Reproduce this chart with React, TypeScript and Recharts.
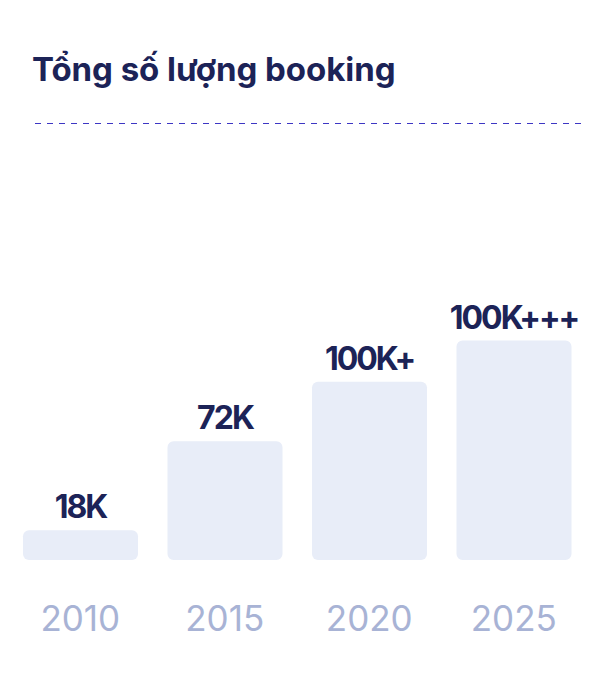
import React from "react";
import { BarChart, Bar, XAxis, YAxis, LabelList } from "recharts";

const years = ["2010", "2015", "2020", "2025"];
const bookings = [18, 72, 108, 133];
const bookingLabels = ["18K", "72K", "100K+", "100K+++"];

const chartData = years.map((year, i) => ({
    year,
    value: bookings[i],
    label: bookingLabels[i],
}));

const FONT = "Inter, 'Noto Sans', sans-serif";

const App: React.FC = () => {
    return (
        <div
            style={{
                position: "relative",
                width: 581,
                height: 660,
                fontFamily: FONT,
            }}
        >
            <div
                style={{
                    position: "absolute",
                    left: 24,
                    top: 45,
                    fontSize: 33,
                    lineHeight: 1,
                    fontWeight: 700,
                    letterSpacing: -0.05,
                    color: "#1c2357",
                    whiteSpace: "nowrap",
                }}
            >
                Tổng số lượng booking
            </div>
            <svg
                width={581}
                height={4}
                style={{ position: "absolute", left: 0, top: 113 }}
            >
                <line
                    x1={27}
                    x2={575}
                    y1={2.5}
                    y2={2.5}
                    stroke="#3d36c4"
                    strokeWidth={1}
                    strokeDasharray="6 6"
                />
            </svg>
            <div style={{ position: "absolute", left: 0, top: 122 }}>
                <BarChart
                    width={578}
                    height={520}
                    data={chartData}
                    margin={{ top: 17.5, right: 0, bottom: 0, left: 0 }}
                >
                    <XAxis
                        dataKey="year"
                        height={90}
                        axisLine={false}
                        tickLine={false}
                        tickSize={0}
                        tickMargin={46}
                        interval={0}
                        tick={{
                            fill: "#a8b3d5",
                            fontSize: 35,
                            fontFamily: FONT,
                        }}
                    />
                    <YAxis hide domain={[0, 250]} />
                    <Bar
                        dataKey="value"
                        fill="#e8edf8"
                        barSize={115}
                        radius={6}
                        isAnimationActive={false}
                    >
                        <LabelList
                            dataKey="label"
                            position="top"
                            offset={12}
                            fill="#1c2357"
                            fontSize={32}
                            fontWeight={700}
                            fontFamily={FONT}
                            letterSpacing={-2}
                        />
                    </Bar>
                </BarChart>
            </div>
        </div>
    );
};

export default App;
